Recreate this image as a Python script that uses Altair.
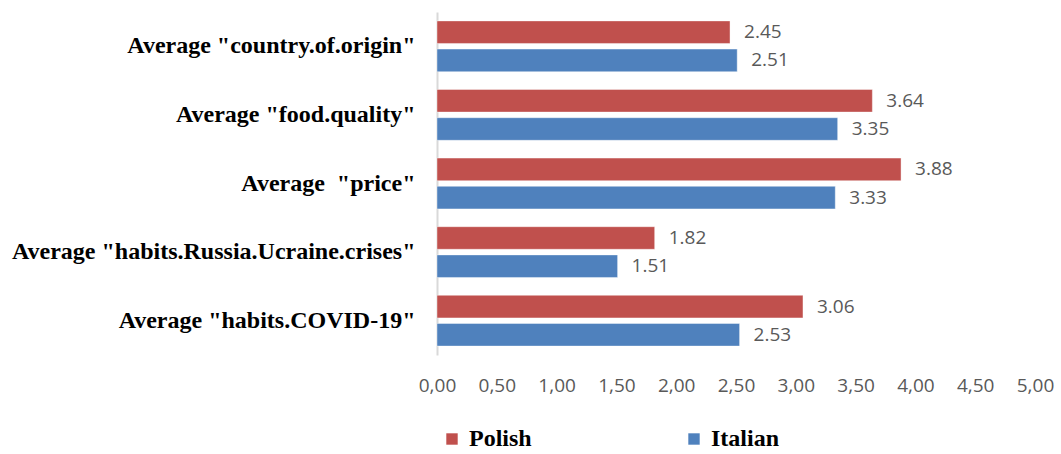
import altair as alt
import pandas as pd

categories = [
    'Average "country.of.origin"',
    'Average "food.quality"',
    'Average \u00a0"price"',
    'Average "habits.Russia.Ucraine.crises"',
    'Average "habits.COVID-19"',
]
series = ["Polish", "Italian"]
polish = [2.45, 3.64, 3.88, 1.82, 3.06]
italian = [2.51, 3.35, 3.33, 1.51, 2.53]
colors = ["#C0504D", "#4F81BD"]

rows = []
for c, p, i in zip(categories, polish, italian):
    rows.append({"category": c, "series": "Polish", "value": p})
    rows.append({"category": c, "series": "Italian", "value": i})
df = pd.DataFrame(rows)

y_enc = alt.Y("category:N", sort=categories, title=None,
              scale=alt.Scale(paddingInner=0.26, paddingOuter=0.13),
              axis=alt.Axis(labelFont="Liberation Serif", labelFontWeight="bold",
                            labelFontSize=24, labelColor="#000000", labelPadding=22,
                            labelLimit=600, ticks=False, domainColor="#D9D9D9",
                            domainWidth=2))
yoff = alt.YOffset("series:N", sort=series, scale=alt.Scale(paddingInner=0.2))
x_enc = alt.X("value:Q", title=None,
              scale=alt.Scale(domain=[0, 5], nice=False),
              axis=alt.Axis(values=[0, 0.5, 1, 1.5, 2, 2.5, 3, 3.5, 4, 4.5, 5],
                            labelExpr="replace(format(datum.value, '.2f'), '.', ',')",
                            labelFont="Open Sans", labelFontSize=19, labelColor="#595959",
                            labelPadding=21, labelFlush=False, labelOverlap=False,
                            ticks=False, domain=False, grid=False))

bars = alt.Chart(df).mark_bar(strokeWidth=0.8, stroke="#ffffff", strokeOpacity=0.5).encode(
    y=y_enc, yOffset=yoff, x=x_enc,
    color=alt.Color("series:N", sort=series,
                    scale=alt.Scale(domain=series, range=colors),
                    legend=alt.Legend(title=None, orient="none", legendX=3, legendY=415,
                                      direction="horizontal", columns=2, columnPadding=150,
                                      symbolType="square", symbolSize=130,
                                      symbolStrokeWidth=0, labelOffset=5,
                                      labelFont="Liberation Serif", labelFontWeight="bold",
                                      labelFontSize=24, labelColor="#000000")),
)

labels = alt.Chart(df).mark_text(align="left", baseline="middle", dx=14,
                                 font="Open Sans", fontSize=19, color="#595959").encode(
    y=alt.Y("category:N", sort=categories), yOffset=yoff,
    x=alt.X("value:Q"),
    text=alt.Text("value:Q", format=".2f"),
)

chart = (bars + labels).properties(
    width=598, height=343,
    autosize=alt.AutoSizeParams(type="none"),
    padding={"left": 437, "top": 12, "right": 26, "bottom": 99},
).configure_view(stroke=None)

chart.save("out.html", embed_options={"renderer": "svg", "actions": False})
